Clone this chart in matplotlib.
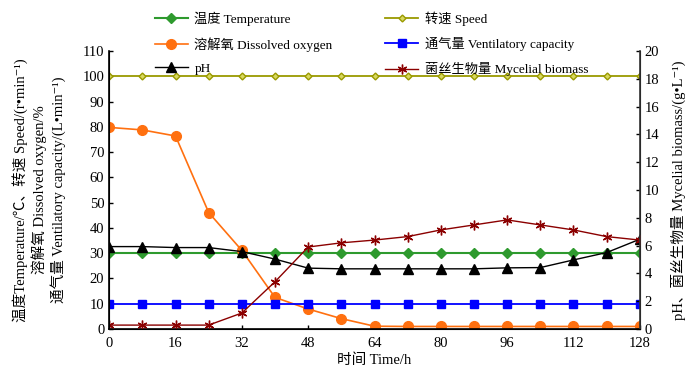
import matplotlib
matplotlib.use("Agg")
import matplotlib.pyplot as plt

plt.rcParams['font.family'] = ['Liberation Serif', 'Noto Sans CJK SC', 'DejaVu Sans']
plt.rcParams['font.size'] = 10.5
plt.rcParams['axes.unicode_minus'] = False

# time points (h)
time_h = [0, 8, 16, 24, 32, 40, 48, 56, 64, 72, 80, 88, 96, 104, 112, 120, 128]

# left axis series
temperature = [30] * 17
speed = [100] * 17
dissolved_oxygen = [79.8, 78.8, 76.4, 46.1, 31.1, 12.5, 7.9, 4.1, 1.1, 1.0, 1.0, 1.0, 1.0, 1.0, 1.0, 1.0, 1.0]
ventilation = [9.8] * 17

# right axis series
ph = [5.93, 5.93, 5.86, 5.86, 5.57, 5.03, 4.38, 4.33, 4.33, 4.33, 4.33, 4.33, 4.40, 4.42, 4.97, 5.50, 6.46]
biomass = [0.28, 0.28, 0.28, 0.28, 1.15, 3.4, 5.9, 6.2, 6.4, 6.65, 7.13, 7.49, 7.85, 7.49, 7.13, 6.65, 6.4]

x_ticks = [0, 16, 32, 48, 64, 80, 96, 112, 128]
left_ticks = list(range(0, 111, 10))
right_ticks = list(range(0, 21, 2))

fig = plt.figure(figsize=(7.0, 3.73), dpi=100)
ax = fig.add_axes([0.156, 0.118, 0.758, 0.745])
ax2 = ax.twinx()

l_temp, = ax.plot(time_h, temperature, color='#2e9a2e', marker='D', ms=5, lw=1.5,
                  label='温度 Temperature')
l_speed, = ax.plot(time_h, speed, color='#9a9a00', marker='D', ms=3.5, mfc='#d8d860',
                   mec='#9a9a00', lw=1.3, label='转速 Speed')
l_do, = ax.plot(time_h, dissolved_oxygen, color='#ff7010', marker='o', ms=7, lw=1.2,
                label='溶解氧 Dissolved oxygen')
l_vent, = ax.plot(time_h, ventilation, color='#0000ff', marker='s', ms=6, lw=1.3,
                  label='通气量 Ventilatory capacity')
l_ph, = ax2.plot(time_h, ph, color='black', marker='^', ms=7, lw=1.0, label='pH')
l_bio, = ax2.plot(time_h, biomass, color='#8b0000', marker=(6, 2, 0), ms=7, lw=1.0,
                  mew=1.0, label='菌丝生物量 Mycelial biomass')

ax.set_xlim(0, 128)
ax.set_ylim(0, 110)
ax2.set_ylim(0, 20)
ax.set_xticks(x_ticks)
ax.set_yticks(left_ticks)
ax2.set_yticks(right_ticks)

for a in (ax, ax2):
    a.spines['top'].set_visible(False)
    a.tick_params(direction='in', length=3, width=1)
ax.spines['left'].set_linewidth(1.2)
ax.spines['bottom'].set_linewidth(1.2)
ax2.spines['right'].set_linewidth(1.2)
ax2.spines['right'].set_color('#333333')
ax.tick_params(axis='x', pad=6)

ax.set_xlabel('时间 Time/h', labelpad=2)
ax.set_ylabel('温度Temperature/℃、转速 Speed/(r•min⁻¹)\n'
              '溶解氧 Dissolved oxygen/%\n'
              '通气量 Ventilatory capacity/(L•min⁻¹)', linespacing=1.25, labelpad=12)
ax2.set_ylabel('pH、菌丝生物量 Mycelial biomass/(g•L⁻¹)', labelpad=8)

handles = [l_temp, l_do, l_ph, l_speed, l_vent, l_bio]
fig.legend(handles=handles, labels=[h.get_label() for h in handles], ncol=2,
           loc='upper left', bbox_to_anchor=(0.205, 1.0), frameon=False, fontsize=9.5,
           columnspacing=4.0, handlelength=2.5, handletextpad=0.5,
           labelspacing=0.85, borderpad=0.35)

fig.savefig('out.png', dpi=100)
